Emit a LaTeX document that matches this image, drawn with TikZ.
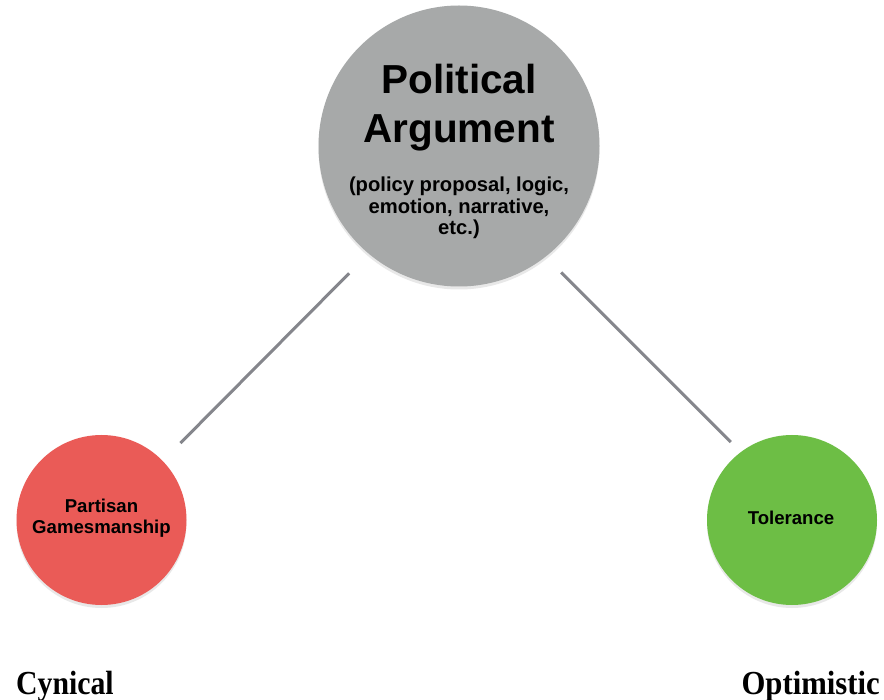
\documentclass[tikz,border=0pt]{standalone}
\usepackage{fontspec}
\setmainfont{Liberation Sans}
\newfontfamily\endfont{Liberation Serif}
\usetikzlibrary{shadows}
\definecolor{argray}{HTML}{A7A9A9}
\definecolor{cynred}{HTML}{EA5B57}
\definecolor{optgreen}{HTML}{6DBE45}
\definecolor{linkgray}{HTML}{85868C}
\begin{document}
\begin{tikzpicture}[x=1pt,y=-1pt,
  ball/.style={circle, inner sep=0pt, draw=none,
    drop shadow={shadow xshift=0pt, shadow yshift=-3pt, opacity=0.18}},
  bigtxt/.style={anchor=base, inner sep=0pt, font=\bfseries\fontsize{40.5}{49}\selectfont},
  subtxt/.style={anchor=base, inner sep=0pt, font=\bfseries\fontsize{20.2}{22}\selectfont},
  smalltxt/.style={anchor=base, inner sep=0pt, font=\bfseries\fontsize{18.6}{21}\selectfont},
  endtxt/.style={inner sep=0pt, font=\endfont\bfseries\fontsize{32}{36}\selectfont},
  link/.style={draw=linkgray, line width=3pt}]
\useasboundingbox (0,0) rectangle (884,700);
\fill[white] (0,0) rectangle (884,700);
% circles
\node[ball, fill=argray, minimum size=281pt] (arg) at (459,146) {};
\node[ball, fill=cynred, minimum size=170pt] (cyn) at (101.5,520) {};
\node[ball, fill=optgreen, minimum size=170pt] (opt) at (792,520) {};
% connectors
\draw[link, shorten <=27.6pt, shorten >=25pt] (arg.-130.1) -- (cyn.44.2);
\draw[link, shorten <=22pt, shorten >=14pt] (arg.-52.5) -- (opt.127.8);
% texts in the top circle
\node[bigtxt] (t1) at (459,94) {Political};
\node[bigtxt] (t2) at (459,143) {Argument};
\node[subtxt] (t3) at (459,192) {(policy proposal, logic,};
\node[subtxt] (t4) at (459,213.5) {emotion, narrative,};
\node[subtxt] (t5) at (459,235) {etc.)};
% texts in the side circles
\node[smalltxt] (r1) at (101.5,512) {Partisan};
\node[smalltxt] (r2) at (101.5,533) {Gamesmanship};
\node[smalltxt] (g1) at (791,524) {Tolerance};
% bottom labels
\node[endtxt, anchor=base west] (cynical) at (16,694) {\scalebox{0.93}[1.05]{Cynical}};
\node[endtxt, anchor=base east] (optimistic) at (880,694) {\scalebox{0.96}[1.05]{Optimistic}};
\end{tikzpicture}
\end{document}
